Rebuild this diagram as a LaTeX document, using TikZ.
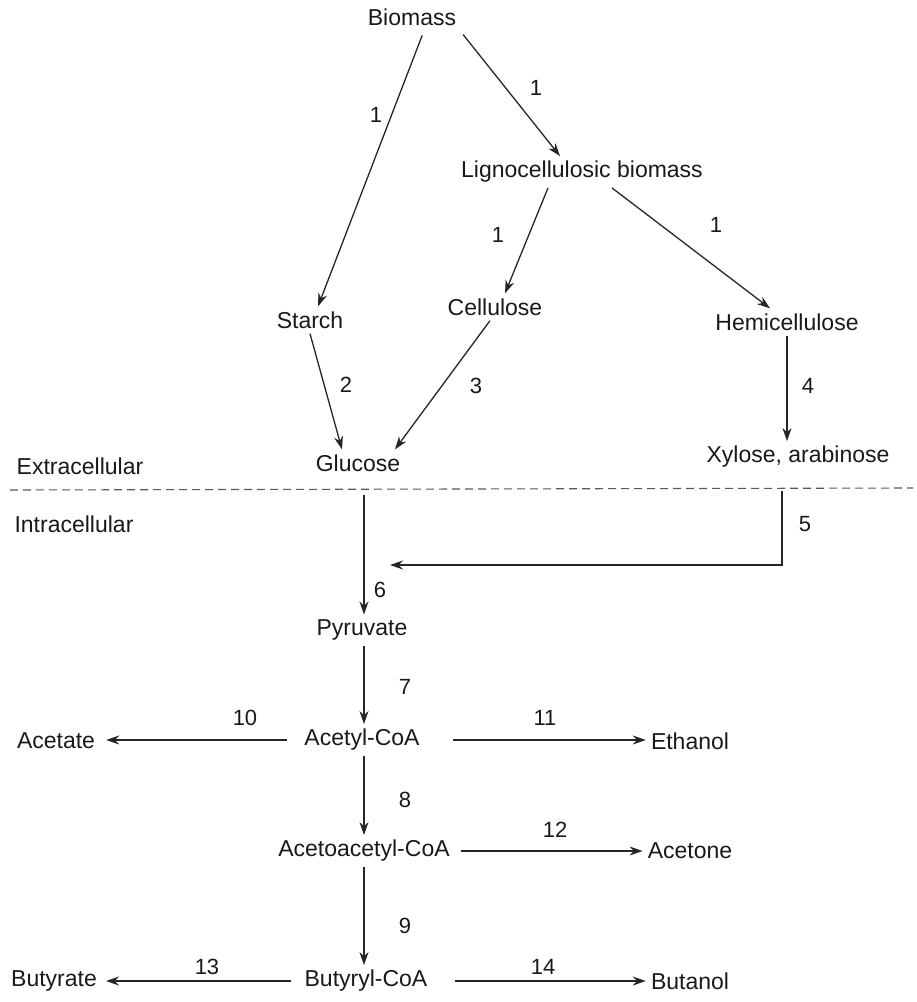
\documentclass[tikz,border=0pt]{standalone}
\usepackage{fontspec}
\setmainfont{Liberation Sans}
\usetikzlibrary{arrows.meta}

\begin{document}
\begin{tikzpicture}[x=1pt,y=-1pt,
    lbl/.style={font=\fontsize{23}{27}\selectfont,inner sep=5pt,text=black!90},
    num/.style={font=\fontsize{22}{26}\selectfont,inner sep=0pt,text=black!90},
    arr/.style={-{Stealth[length=13pt,width=9pt]},line width=1.3pt,black!85}]
        \useasboundingbox (0,0) rectangle (917,1002);
        % substrates
        \node at (412,17)[lbl] (bio) {Biomass};
        \node at (582,172)[lbl] (ligno) {Lignocellulosic biomass};
        \node at (310,320)[lbl] (starch) {Starch};
        \node at (495,307)[lbl] (cell) {Cellulose};
        \node at (787,322)[lbl] (hemi) {Hemicellulose};
        \node at (358,463)[lbl] (gluc) {Glucose};
        \node at (798,457)[lbl] (xyl) {Xylose, arabinose};
        \node at (80,466)[lbl] (extra) {Extracellular};
        \node at (74,524)[lbl] (intra) {Intracellular};
        % intracellular products
        \node at (362,630)[lbl] (pyr) {Pyruvate};
        \node at (362,740)[lbl] (acoa) {Acetyl-CoA};
        \node at (56,741)[lbl] (acet) {Acetate};
        \node at (690,741)[lbl] (eth) {Ethanol};
        \node at (364,851)[lbl] (aacoa) {Acetoacetyl-CoA};
        \node at (690,851)[lbl] (acetone) {Acetone};
        \node at (366,981)[lbl] (bcoa) {Butyryl-CoA};
        \node at (54,981)[lbl] (butyr) {Butyrate};
        \node at (690,981)[lbl] (buta) {Butanol};
        \coordinate (merge) at (390,565);
        % membrane
        \draw [dashed,dash pattern=on 8pt off 5pt,line width=1.1pt,black!65] (10,490) -- (913,488);
        % steps
        \draw [arr,shorten <=5pt] ([xshift=12pt]bio.south) -- ([xshift=8pt]starch.north);
        \draw [arr,shorten <=5pt] ([xshift=48pt]bio.south) -- ([xshift=-22pt]ligno.north);
        \draw [arr] ([xshift=-34pt]ligno.south) -- ([xshift=10pt]cell.north);
        \draw [arr] ([xshift=30pt]ligno.south) -- ([xshift=-17pt]hemi.north);
        \draw [arr] (starch.south) -- ([xshift=-16pt]gluc.north);
        \draw [arr] ([xshift=-5pt]cell.south) -- ([xshift=37pt]gluc.north);
        \draw [arr] (hemi.south) -- (hemi.south |- xyl.north);
        \draw [arr,shorten <=18pt] ([xshift=6pt]gluc.south) -- ([xshift=2pt]pyr.north);
        \draw [arr,shorten <=18pt] ([xshift=-16pt]xyl.south) |- (merge);
        \draw [arr] ([xshift=2pt]pyr.south) -- ([xshift=2pt]acoa.north);
        \draw [arr,shorten <=12pt,shorten >=6pt] (acoa.west) -- (acoa.west -| acet.east);
        \draw [arr,shorten <=28pt] (acoa.east) -- (acoa.east -| eth.west);
        \draw [arr] ([xshift=2pt]acoa.south) -- (aacoa.north);
        \draw [arr,shorten <=6pt] (aacoa.east) -- (aacoa.east -| acetone.west);
        \draw [arr] (aacoa.south) -- ([xshift=-2pt]bcoa.north);
        \draw [arr,shorten <=8pt,shorten >=4pt] (bcoa.west) -- (bcoa.west -| butyr.east);
        \draw [arr,shorten <=22pt] (bcoa.east) -- (bcoa.east -| buta.west);
        % step numbers
        \node at (376,115)[num] (s1a) {1};
        \node at (536,88)[num] (s1b) {1};
        \node at (498,235)[num] (s1c) {1};
        \node at (716,225)[num] (s1d) {1};
        \node at (346,385)[num] (s2) {2};
        \node at (476,386)[num] (s3) {3};
        \node at (808,386)[num] (s4) {4};
        \node at (805,524)[num] (s5) {5};
        \node at (380,590)[num] (s6) {6};
        \node at (405,687)[num] (s7) {7};
        \node at (405,800)[num] (s8) {8};
        \node at (405,926)[num] (s9) {9};
        \node at (245,718)[num] (s10) {10};
        \node at (545,718)[num] (s11) {11};
        \node at (555,830)[num] (s12) {12};
        \node at (207,967)[num] (s13) {13};
        \node at (543,967)[num] (s14) {14};
    \end{tikzpicture}
\end{document}
